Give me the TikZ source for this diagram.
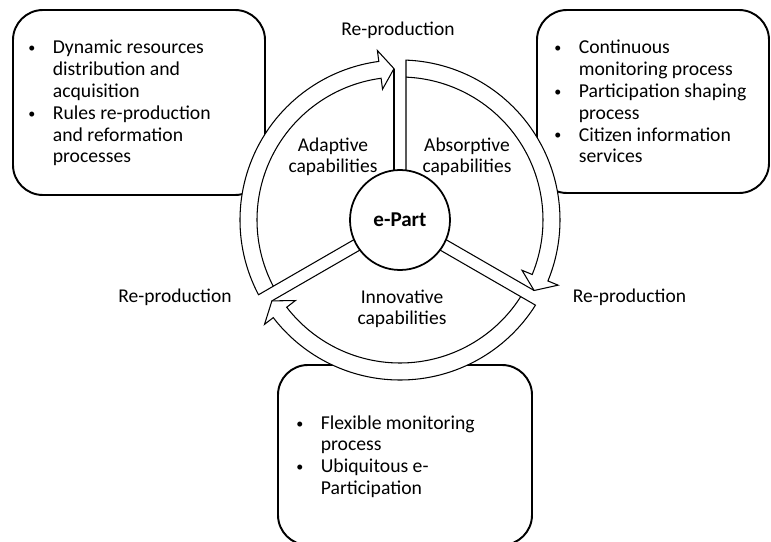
\documentclass[tikz,border=0pt]{standalone}
\usepackage{fontspec}
\setmainfont{Carlito}

\newcommand{\dotmark}{\raisebox{0.6pt}{\fontsize{8}{8}\selectfont\textbullet}}

\begin{document}
\begin{tikzpicture}[
    infobox/.style={draw, line width=1.1pt, rounded corners=0.6cm},
    band/.style={draw, fill=white, line width=0.6pt},
    spoke/.style={draw, line width=0.6pt},
    caption/.style={font=\fontsize{11.1}{12}\selectfont, align=center, inner sep=0pt},
    listtext/.style={font=\fontsize{11.2}{12.4}\selectfont, anchor=west, inner sep=0pt}
  ]
  \useasboundingbox (-8,-6.42) rectangle (7.42,4.4);

  % the three boxes
  \draw[infobox] (-7.74,0.5) rectangle (-2.70,4.2);
  \draw[infobox] (2.74,0.54) rectangle (7.38,4.2);
  \draw[infobox] (-2.44,-6.5) rectangle (2.64,-2.9);

  \node[listtext] (adaptlist) at (-7.44,2.32) {\begin{tabular}{@{}p{4.9mm}@{}l@{}}
      \dotmark & Dynamic resources\\ & distribution and\\ & acquisition\\
      \dotmark & Rules re-production\\ & and reformation\\ & processes
    \end{tabular}};
  \node[listtext] (absorplist) at (3.08,2.32) {\begin{tabular}{@{}p{4.9mm}@{}l@{}}
      \dotmark & Continuous\\ & monitoring process\\
      \dotmark & Participation shaping\\ & process\\
      \dotmark & Citizen information\\ & services
    \end{tabular}};
  \node[listtext] (innovlist) at (-2.08,-4.75) {\begin{tabular}{@{}p{4.9mm}@{}l@{}}
      \dotmark & Flexible monitoring\\ & process\\
      \dotmark & Ubiquitous e-\\ & Participation
    \end{tabular}};

  % ring of hollow arrows
  \foreach \a in {0,120,240} {
    \begin{scope}[rotate=\a]
      \draw[band] (0.12,0.993) -- (0.12,3.198) arc (87.85:-22.4:3.2)
        -- (-22.4:3.42) -- (-27.73:3.03) -- (-22.4:2.64) -- (-22.4:2.86)
        arc (-22.4:87.6:2.86);
      \draw[spoke] (-0.12,0.993) -- (-0.12,3.028);
    \end{scope}
  }

  \node[circle, draw, fill=white, line width=1pt, minimum size=2cm, inner sep=0pt,
    font=\bfseries\fontsize{12}{14}\selectfont] (epart) at (0,0) {e-Part};

  \node[caption] (toprep) at (-0.04,3.8) {Re-production};
  \node[caption] (rightrep) at (4.59,-1.54) {Re-production};
  \node[caption] (leftrep) at (-4.5,-1.54) {Re-production};
  \node[caption] (adaptive) at (-1.34,1.26) {Adaptive\\capabilities};
  \node[caption] (absorptive) at (1.34,1.26) {Absorptive\\capabilities};
  \node[caption] (innovative) at (0.04,-1.78) {Innovative\\capabilities};
\end{tikzpicture}
\end{document}
